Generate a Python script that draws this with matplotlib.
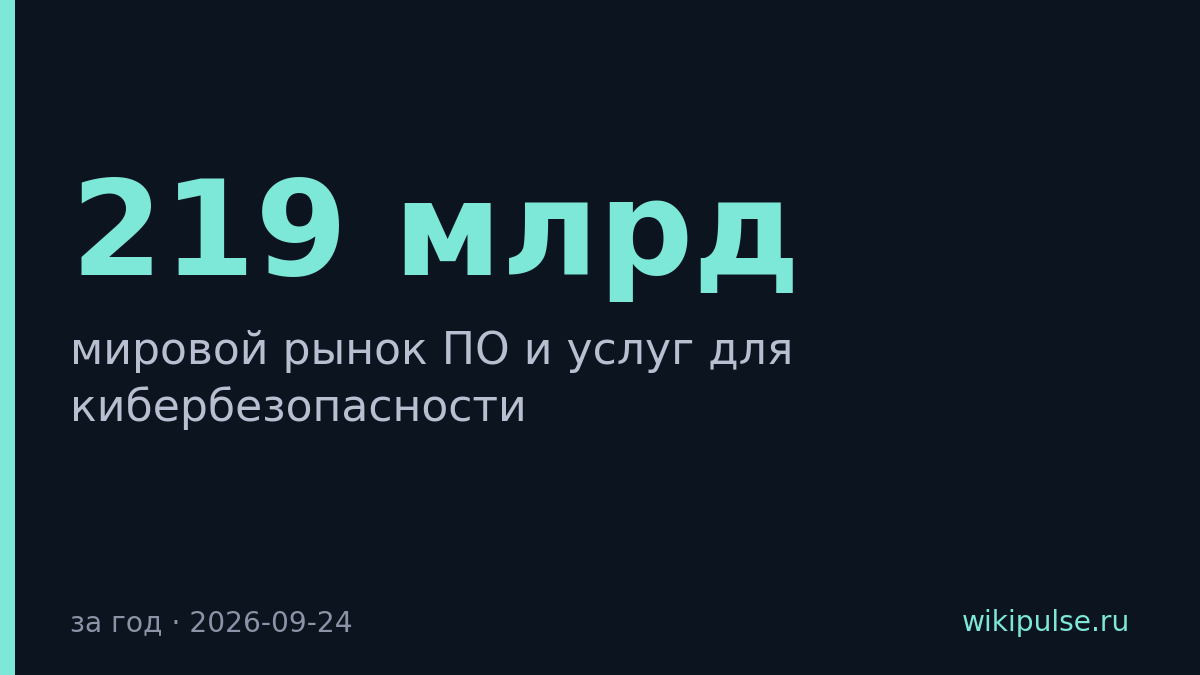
import matplotlib.pyplot as plt
import matplotlib.patches as patches

# card content
headline = "219 млрд"
subtitle_lines = ["мировой рынок ПО и услуг для", "кибербезопасности"]
footer_left = "за год · 2026-09-24"
footer_right = "wikipulse.ru"

W, H = 1200, 675
bg = "#0c141f"
accent = "#7ee8d8"


def fy(px):
  # pixel from top -> figure fraction
  return 1 - px / H


def fx(px):
  return px / W


fig = plt.figure(figsize=(12, 6.75), dpi=100)
fig.patch.set_facecolor(bg)

# left accent bar
fig.add_artist(patches.Rectangle((0, 0), fx(15), 1, transform=fig.transFigure,
                                 facecolor=accent, edgecolor='none'))

fig.text(fx(71), fy(275), headline, fontsize=95.3, fontweight='bold',
         color=accent, family='DejaVu Sans', va='baseline', ha='left')

for i, line in enumerate(subtitle_lines):
  fig.text(fx(70), fy(364 + 57 * i), line, fontsize=31.75, color="#b9bed0",
           family='DejaVu Sans', va='baseline', ha='left')

fig.text(fx(70), fy(631), footer_left, fontsize=20.25, color="#8b93a6",
         family='DejaVu Sans', va='baseline', ha='left')
fig.text(fx(1130), fy(631), footer_right, fontsize=20.25, color=accent,
         family='DejaVu Sans', va='baseline', ha='right')

plt.savefig("out.png", dpi=100, facecolor=bg)
